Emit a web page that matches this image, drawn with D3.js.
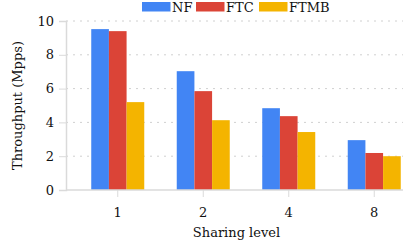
<!DOCTYPE html>
<html>
<head>
<meta charset="utf-8">
<script src="https://d3js.org/d3.v7.min.js"></script>
<style>
  body { margin: 0; background: #fff; }
  text { font-family: "DejaVu Serif", serif; fill: #111; }
</style>
</head>
<body>
<svg id="chart" width="403" height="250"></svg>
<script>
var levels = ["1", "2", "4", "8"];
var seriesNames = ["NF", "FTC", "FTMB"];
var nfValues = [9.52, 7.03, 4.84, 2.95];
var ftcValues = [9.40, 5.85, 4.37, 2.19];
var ftmbValues = [5.20, 4.13, 3.43, 2.00];
var yTicks = [0, 2, 4, 6, 8, 10];
var colors = ["#4285f4", "#db4437", "#f4b400"];

var svg = d3.select("#chart");

var data = levels.map(function(l, i) {
  return {level: l, values: [nfValues[i], ftcValues[i], ftmbValues[i]]};
});

var x = d3.scaleBand()
    .domain(levels)
    .range([75, 417])
    .paddingInner(0.38)
    .paddingOuter(0.19);

var xs = d3.scaleBand()
    .domain(seriesNames)
    .range([0, x.bandwidth()]);

var y = d3.scaleLinear()
    .domain([0, 10])
    .range([190, 21]);

// gridlines
svg.append("g")
  .selectAll("line")
  .data(yTicks.filter(function(d) { return d > 0; }))
  .enter().append("line")
    .attr("x1", 66)
    .attr("x2", 403)
    .attr("y1", function(d) { return y(d); })
    .attr("y2", function(d) { return y(d); })
    .attr("stroke", "#d0d0d0")
    .attr("stroke-width", 1)
    .attr("stroke-dasharray", "2,5");

// y axis
var yAxis = svg.append("g")
    .attr("transform", "translate(66,0)")
    .call(d3.axisLeft(y).tickValues(yTicks).tickSize(7).tickPadding(5));
yAxis.select(".domain").attr("stroke", "#dadada").attr("stroke-width", 1.5);
yAxis.selectAll(".tick line").attr("stroke", "#dadada");
yAxis.selectAll("text").style("font-size", "13px").attr("fill", "#111");

// bars
svg.append("g")
  .selectAll("g")
  .data(data)
  .enter().append("g")
    .attr("transform", function(d) { return "translate(" + x(d.level) + ",0)"; })
  .selectAll("rect")
  .data(function(d) { return d.values; })
  .enter().append("rect")
    .attr("x", function(d, i) { return xs(seriesNames[i]); })
    .attr("width", xs.bandwidth())
    .attr("y", function(d) { return y(d); })
    .attr("height", function(d) { return y(0) - y(d); })
    .attr("fill", function(d, i) { return colors[i]; });

// x axis
var xAxis = svg.append("g")
    .attr("transform", "translate(0,190)")
    .call(d3.axisBottom(x).tickSize(7).tickPadding(11));
xAxis.select(".domain").attr("stroke", "#dadada").attr("stroke-width", 1.5)
    .attr("d", "M66,0H403");
xAxis.selectAll(".tick line").attr("stroke", "#dadada");
xAxis.selectAll("text").style("font-size", "13px").attr("fill", "#111");

svg.append("text")
    .attr("x", 236.5)
    .attr("y", 237)
    .attr("text-anchor", "middle")
    .style("font-size", "13px")
    .text("Sharing level");

svg.append("text")
    .attr("transform", "translate(22,105.5) rotate(-90)")
    .attr("text-anchor", "middle")
    .style("font-size", "13px")
    .text("Throughput (Mpps)");

// legend
var legendX = [142, 196, 259];
for (var i = 0; i < 3; i++) {
  svg.append("rect")
      .attr("x", legendX[i])
      .attr("y", 2)
      .attr("width", 28.5)
      .attr("height", 9.5)
      .attr("fill", colors[i]);
  svg.append("text")
      .attr("x", legendX[i] + 30)
      .attr("y", 11.5)
      .style("font-size", "13px")
      .text(seriesNames[i]);
}
</script>
</body>
</html>
